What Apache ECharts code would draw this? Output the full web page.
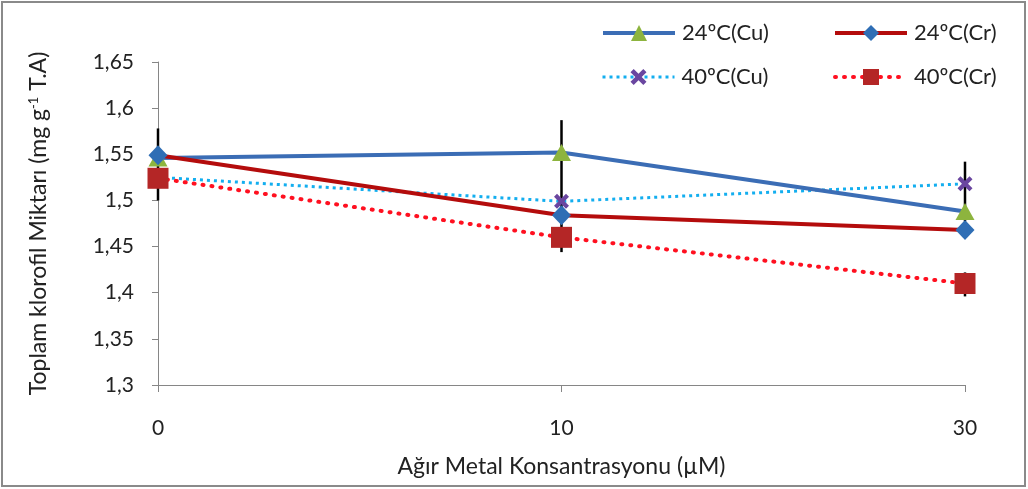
<!DOCTYPE html>
<html><head><meta charset="utf-8">
<script src="https://cdn.jsdelivr.net/npm/echarts@6/dist/echarts.min.js"></script>
<style>html,body{margin:0;padding:0;background:#fff}#c{width:1028px;height:489px}</style>
</head><body><div id="c"></div>
<script>
const categories = ['0', '10', '30'];
const cu24 = [1.546, 1.552, 1.488];
const cr24 = [1.549, 1.484, 1.468];
const cu40 = [1.525, 1.499, 1.518];
const cr40 = [1.524, 1.460, 1.410];
const errX = [0, 1, 2, 2];
const errLow = [1.500, 1.444, 1.477, 1.396];
const errHigh = [1.578, 1.587, 1.542, 1.422];
const yTicks = [1.3, 1.65, 0.05];
const names = ['24ºC(Cu)', '24ºC(Cr)', '40ºC(Cu)', '40ºC(Cr)'];

const FONT = 'Lato';
const xPath = 'path://M0,2 L2,0 L5,3 L8,0 L10,2 L7,5 L10,8 L8,10 L5,7 L2,10 L0,8 L3,5 Z';
const lineStyles = [
  {color: '#3B6DB5', width: 4},
  {color: '#B40C0C', width: 4},
  {color: '#13AEEF', width: 3, type: [3, 4]},
  {color: '#FF1020', width: 4, type: [1, 8], cap: 'round'}
];

const chart = echarts.init(document.getElementById('c'), null, {renderer: 'canvas'});
function legend(i, left, top) {
  return {data: [names[i]], left: left, top: top, itemWidth: 72, itemHeight: 20, itemGap: 0,
    lineStyle: Object.assign({}, lineStyles[i]),
    textStyle: {fontFamily: FONT, fontSize: 22, color: '#222', padding: [0, 0, 0, 2]}, selectedMode: false};
}
const option = {
  backgroundColor: '#fff',
  animation: false,
  textStyle: {fontFamily: FONT},
  graphic: [{type: 'rect', shape: {x: 2, y: 2, width: 1023, height: 484}, style: {fill: 'none', stroke: '#8a8a8a', lineWidth: 2}, silent: true}],
  legend: [legend(0, 596, 17), legend(1, 828, 17), legend(2, 596, 61), legend(3, 828, 61)],
  grid: {left: 158, right: 63, top: 62, bottom: 104},
  xAxis: {
    type: 'category', data: categories, boundaryGap: false,
    axisLine: {lineStyle: {color: '#868686', width: 1}},
    axisTick: {alignWithLabel: true, length: 7, lineStyle: {color: '#868686'}},
    axisLabel: {color: '#222', fontSize: 21, fontFamily: FONT, margin: 33},
    name: 'Ağır Metal Konsantrasyonu (µM)', nameLocation: 'middle', nameGap: 70,
    nameTextStyle: {color: '#222', fontSize: 23, fontFamily: FONT}
  },
  yAxis: {
    type: 'value', min: yTicks[0], max: yTicks[1], interval: yTicks[2],
    splitLine: {show: false},
    axisLine: {show: true, lineStyle: {color: '#868686', width: 1}},
    axisTick: {show: true, length: 6, lineStyle: {color: '#868686'}},
    axisLabel: {color: '#222', fontSize: 21, fontFamily: FONT, margin: 24,
      formatter: v => String(Math.round(v * 100) / 100).replace('.', ',')},
    name: '{a|Toplam klorofil Miktarı (mg g}{s|-1}{a| T.A)}', nameLocation: 'middle', nameGap: 108,
    nameTextStyle: {rich: {a: {fontSize: 23, fontFamily: FONT, color: '#222'}, s: {fontSize: 13, fontFamily: FONT, color: '#222', verticalAlign: 'top', padding: [0, 0, 10, 0]}}}
  },
  series: [
    {type: 'custom', name: 'err', z: 1, silent: true,
      data: errX.map((x, i) => [x, errLow[i], errHigh[i]]),
      renderItem: function (params, api) {
        const p1 = api.coord([api.value(0), api.value(1)]);
        const p2 = api.coord([api.value(0), api.value(2)]);
        return {type: 'line', shape: {x1: p1[0], y1: p1[1], x2: p2[0], y2: p2[1]}, style: {stroke: '#000', lineWidth: 2.5}};
      }
    },
    {type: 'line', name: names[0], data: cu24, z: 3, symbol: 'triangle', symbolSize: [19, 17],
      lineStyle: lineStyles[0], itemStyle: {color: '#8DB43E'}},
    {type: 'line', name: names[1], data: cr24, z: 4, symbol: 'diamond', symbolSize: [19, 20],
      lineStyle: lineStyles[1], itemStyle: {color: '#2F6EB5'}},
    {type: 'line', name: names[2], data: cu40, z: 2, symbol: xPath, symbolSize: 15,
      lineStyle: lineStyles[2], itemStyle: {color: '#6A46A0'}},
    {type: 'line', name: names[3], data: cr40, z: 5, symbol: 'rect', symbolSize: 21,
      lineStyle: lineStyles[3], itemStyle: {color: '#B42626'}}
  ]
};
chart.setOption(option);
</script></body></html>
